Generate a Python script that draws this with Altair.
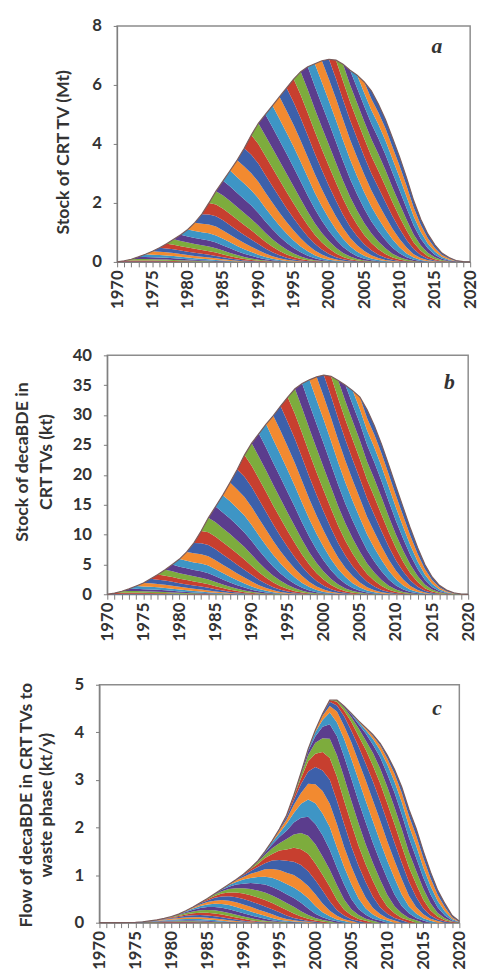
import altair as alt
import pandas as pd

# ---------------- data ----------------
YEARS = list(range(1970, 2021))
COHORTS = list(range(1970, 2007))

# relative size of each purchase cohort (1970..2006)
INFLOW = [0.02, 0.04, 0.06, 0.08, 0.10, 0.13, 0.16, 0.19, 0.22, 0.26,
          0.30, 0.35, 0.40, 0.45, 0.50, 0.55, 0.60, 0.64, 0.68, 0.72,
          0.75, 0.78, 0.80, 0.82, 0.84, 0.85, 0.85, 0.84, 0.82, 0.78,
          0.72, 0.66, 0.60, 0.52, 0.44, 0.36, 0.25]
# share of a cohort still in use, by age (years)
SURVIVAL = [1.0, 0.99, 0.97, 0.94, 0.89, 0.83, 0.75, 0.66, 0.56, 0.46,
            0.36, 0.27, 0.19, 0.12, 0.07, 0.04, 0.02, 0.01, 0.0]
# share of a cohort discarded, by age (years)
DISCARD = [0.0, 0.01, 0.02, 0.03, 0.05, 0.06, 0.08, 0.09, 0.10, 0.10,
           0.10, 0.09, 0.08, 0.07, 0.05, 0.03, 0.02, 0.01, 0.01]

# a: stock of CRT TV (Mt), 1970..2020
STOCK_TV = [0.00, 0.04, 0.09, 0.17, 0.26, 0.36, 0.48, 0.62, 0.77, 0.92,
            1.10, 1.33, 1.62, 2.00, 2.40, 2.75, 3.10, 3.45, 3.85, 4.30,
            4.70, 5.00, 5.30, 5.60, 5.90, 6.20, 6.45, 6.62, 6.72, 6.82,
            6.87, 6.84, 6.70, 6.50, 6.33, 6.10, 5.80, 5.35, 4.83, 4.20,
            3.56, 2.85, 2.08, 1.45, 0.95, 0.58, 0.30, 0.15, 0.05, 0.01,
            0.00]
# b: stock of decaBDE in CRT TVs (kt)
STOCK_DECA = [0.0, 0.2, 0.5, 0.9, 1.4, 1.9, 2.6, 3.3, 4.1, 5.0,
              5.9, 7.1, 8.6, 10.6, 12.8, 14.7, 16.6, 18.7, 20.9, 23.3,
              25.3, 26.9, 28.5, 29.9, 31.5, 33.0, 34.4, 35.3, 35.9, 36.4,
              36.7, 36.5, 35.8, 35.0, 34.1, 33.0, 30.9, 28.2, 25.1, 21.6,
              18.0, 14.5, 11.0, 7.8, 5.0, 2.9, 1.5, 0.7, 0.25, 0.05,
              0.0]
# c: flow of decaBDE in CRT TVs to waste phase (kt/y)
FLOW_DECA = [0.0, 0.0, 0.0, 0.0, 0.005, 0.01, 0.02, 0.04, 0.06, 0.09,
             0.13, 0.18, 0.25, 0.33, 0.42, 0.51, 0.61, 0.71, 0.81, 0.91,
             1.02, 1.15, 1.30, 1.50, 1.72, 1.97, 2.26, 2.68, 3.15, 3.65,
             4.05, 4.39, 4.68, 4.68, 4.55, 4.40, 4.24, 4.10, 3.95, 3.77,
             3.52, 3.22, 2.85, 2.38, 1.98, 1.50, 1.06, 0.68, 0.40, 0.15,
             0.03]

COLORS = ["#3d60aa", "#c73f2f", "#7dac3d", "#5b3d8d", "#3e95c5", "#f28a30"]

FONT = "Lato"
INK = "#333333"
AXIS_GREY = "#7a7a7a"


def split(total, profile):
    rows = []
    for t, tot in zip(YEARS, total):
        w = []
        for c, inf in zip(COHORTS, INFLOW):
            a = t - c
            w.append(inf * profile[a] if 0 <= a < len(profile) else 0.0)
        s = sum(w)
        for c, wi in zip(COHORTS, w):
            rows.append({"year": t, "cohort": c,
                         "value": tot * wi / s if s > 0 else 0.0})
    return pd.DataFrame(rows)


def x_enc():
    return alt.X(
        "year:Q",
        scale=alt.Scale(domain=[1970, 2020], nice=False, zero=False),
        axis=alt.Axis(values=YEARS, format="d",
                      labelExpr="datum.value % 5 === 0 ? datum.label : ''",
                      labelAngle=-90, labelOverlap=False, labelFlush=False,
                      tickSize=5, labelPadding=3, grid=False, title=None,
                      domainColor=AXIS_GREY, tickColor=AXIS_GREY,
                      labelFont=FONT, labelFontWeight="bold",
                      labelFontSize=17, labelColor=INK),
    )


def y_enc(ymax, step, title, tx, ty, lh, stacked):
    kw = {}
    if stacked:
        kw["stack"] = "zero"
    return alt.Y(
        "value:Q",
        scale=alt.Scale(domain=[0, ymax], nice=False),
        axis=alt.Axis(values=list(range(0, ymax + 1, step)), grid=False,
                      tickSize=4, labelPadding=12, domainColor=AXIS_GREY,
                      tickColor=AXIS_GREY, labelFont=FONT,
                      labelFontWeight="bold", labelFontSize=17,
                      labelColor=INK, title=title, titleFont=FONT,
                      titleFontWeight="bold", titleFontSize=18,
                      titleColor=INK, titleX=tx, titleY=ty,
                      titleAngle=270, titleBaseline="middle",
                      titleAlign="center", titleLineHeight=lh),
        **kw,
    )


def panel(total, profile, ymax, step, title, tx, ty, lh, letter, lx, ly,
          width, height):
    df = split(total, profile)
    area = alt.Chart(df).mark_area(interpolate="linear").encode(
        x=x_enc(),
        y=y_enc(ymax, step, title, tx, ty, lh, True),
        color=alt.Color("cohort:N", scale=alt.Scale(domain=COHORTS, range=COLORS),
                        legend=None),
        order=alt.Order("cohort:Q", sort="ascending"),
    )
    env = alt.Chart(pd.DataFrame({"year": YEARS, "value": total})).mark_line(
        color="#7a5c5c", strokeWidth=1.2
    ).encode(x=x_enc(), y=y_enc(ymax, step, title, tx, ty, lh, False))
    lab = alt.Chart(pd.DataFrame({"year": [lx], "value": [ly], "t": [letter]})).mark_text(
        font="Liberation Serif", fontStyle="italic", fontWeight="bold",
        fontSize=22, color=INK
    ).encode(x=x_enc(), y=y_enc(ymax, step, title, tx, ty, lh, False), text="t:N")
    return alt.layer(area, env, lab).properties(
        width=width, height=height,
        view=alt.ViewBackground(stroke="#8c8c8c", strokeWidth=1.5, strokeOpacity=1),
    )


def spacer(w, h):
    return alt.Chart(pd.DataFrame({"k": [0]})).mark_rule(strokeOpacity=0).encode(
        x=alt.value(0), x2=alt.value(w), y=alt.value(0)
    ).properties(width=w, height=h, view=alt.ViewBackground(strokeOpacity=0))


pa = panel(STOCK_TV, SURVIVAL, 8, 2, "Stock of CRT TV (Mt)", -54.5, 128, 20,
           "a", 2015.3, 7.3, 359, 240)
pb = panel(STOCK_DECA, SURVIVAL, 40, 5, ["Stock of decaBDE in", "CRT TVs (kt)"],
           -86, 108, 24, "b", 2017.4, 35.6, 367, 243)
pc = panel(FLOW_DECA, DISCARD, 5, 1, ["Flow of decaBDE in CRT TVs to", "waste phase  (kt/y)"],
           -74, 122, 20, "c", 2016.9, 4.5, 366, 242)

row_a = alt.hconcat(spacer(46, 1), pa, spacing=0)
row_b = alt.hconcat(spacer(5, 1), pb, spacing=0)
row_c = alt.hconcat(spacer(9, 1), pc, spacing=0)

chart = alt.vconcat(row_a, spacer(1, 36), row_b, spacer(1, 33), row_c,
                    spacing=0).properties(
    padding={"left": 0, "top": 0, "right": 0, "bottom": 0},
    background="white",
).configure_view(strokeOpacity=0)

chart.save("out.html", embed_options={"renderer": "svg", "actions": False})
